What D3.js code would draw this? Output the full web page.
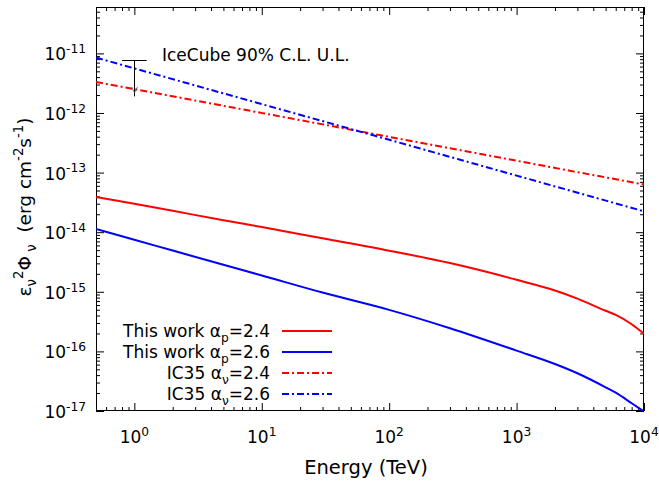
<!DOCTYPE html>
<html>
<head>
<meta charset="utf-8">
<script src="https://cdn.jsdelivr.net/npm/d3@7"></script>
<style>
  body { margin: 0; background: #fff; }
  svg { font-family: "DejaVu Sans", sans-serif; }
  text { white-space: pre; fill: #000; }
</style>
</head>
<body>
<svg id="chart" width="659" height="481"></svg>
<script>
// Neutrino energy grid (TeV) for the model curves
const energy = [0.5, 1, 2, 5, 10, 30, 100, 300, 1000, 2000, 3000, 5000, 6000, 8000, 10000];
// Model flux, proton index 2.4 (erg cm^-2 s^-1)
const thisWork24 = [3.91e-14, 2.99e-14, 2.28e-14, 1.59e-14, 1.22e-14, 7.9e-15, 4.9e-15, 3.03e-15,
                    1.59e-15, 1.05e-15, 7.7e-16, 4.8e-16, 4.1e-16, 2.86e-16, 1.97e-16];
// Model flux, proton index 2.6
const thisWork26 = [1.13e-14, 7.46e-15, 4.92e-15, 2.84e-15, 1.88e-15, 9.7e-16, 4.98e-16, 2.45e-16,
                    1.03e-16, 6.15e-17, 4.3e-17, 2.5e-17, 2.03e-17, 1.35e-17, 9.8e-18];
// IC35 power-law fluxes
const icEnergy = [0.5, 1, 10, 100, 1000, 10000];
const ic35_24 = [3.31e-12, 2.51e-12, 1.0e-12, 3.98e-13, 1.58e-13, 6.3e-14];
const ic35_26 = [8.5e-12, 5.6e-12, 1.41e-12, 3.55e-13, 8.9e-14, 2.24e-14];
// IceCube 90% C.L. upper limit at 1 TeV
const ulEnergy = 1;
const ulValue = 7.8e-12;
const ulArrowEnd = 1.9e-12;
const ulBarHalfWidth = [0.8, 1.25];

// Axis ranges and ticks
const xDomain = [0.5, 1e4];
const yDomain = [1e-17, 6e-11];
const xMajor = [0, 1, 2, 3, 4];
const yMajor = [-17, -16, -15, -14, -13, -12, -11];

const series = [
  { label: "This work ", sym: "\u03b1", sub: "p", val: "=2.4", x: energy, y: thisWork24, color: "#ff0000", dash: null },
  { label: "This work ", sym: "\u03b1", sub: "p", val: "=2.6", x: energy, y: thisWork26, color: "#0000ff", dash: null },
  { label: "IC35 ", sym: "\u03b1", sub: "\u03bd", val: "=2.4", x: icEnergy, y: ic35_24, color: "#ff0000", dash: "7,3,2,3" },
  { label: "IC35 ", sym: "\u03b1", sub: "\u03bd", val: "=2.6", x: icEnergy, y: ic35_26, color: "#0000ff", dash: "7,3,2,3" }
];

const plot = { left: 96, right: 644, top: 7, bottom: 411 };

const svg = d3.select("#chart");
const x = d3.scaleLog().domain(xDomain).range([plot.left, plot.right]);
const y = d3.scaleLog().domain(yDomain).range([plot.bottom, plot.top]);

// rich text: parts [{t, k:'sup'|'sub'|undefined}]
function rich(sel, parts, size) {
  let off = 0;
  parts.forEach(p => {
    const target = p.k === "sup" ? -0.42 * size : p.k === "sub" ? 0.28 * size : 0;
    sel.append("tspan")
      .attr("dy", (target - off).toFixed(2))
      .attr("font-size", p.k ? size * 0.72 : size)
      .text(p.t);
    off = target;
  });
}

svg.append("defs").append("clipPath").attr("id", "clip")
  .append("rect").attr("x", plot.left).attr("y", plot.top)
  .attr("width", plot.right - plot.left).attr("height", plot.bottom - plot.top);

// minor tick values
const xMinor = [];
for (let e = -1; e <= 3; e++) for (let m = 2; m <= 9; m++) {
  const v = m * Math.pow(10, e);
  if (v >= xDomain[0] && v <= xDomain[1]) xMinor.push(v);
}
const yMinor = [];
for (let e = -17; e <= -11; e++) for (let m = 2; m <= 9; m++) {
  const v = m * Math.pow(10, e);
  if (v >= yDomain[0] && v <= yDomain[1]) yMinor.push(v);
}
const xMajVals = xMajor.map(e => Math.pow(10, e));
const yMajVals = yMajor.map(e => Math.pow(10, e));

function drawAxis(axisGen, tf) {
  const g = svg.append("g").attr("transform", tf).call(axisGen);
  g.select(".domain").remove();
  g.selectAll("line").attr("stroke", "#000").attr("stroke-width", 1);
  g.selectAll("text").remove();
  return g;
}
// bottom / top
drawAxis(d3.axisBottom(x).tickValues(xMajVals).tickSize(-8).tickFormat(""), `translate(0,${plot.bottom})`);
drawAxis(d3.axisBottom(x).tickValues(xMinor).tickSize(-4).tickFormat(""), `translate(0,${plot.bottom})`);
drawAxis(d3.axisTop(x).tickValues(xMajVals).tickSize(-8).tickFormat(""), `translate(0,${plot.top})`);
drawAxis(d3.axisTop(x).tickValues(xMinor).tickSize(-4).tickFormat(""), `translate(0,${plot.top})`);
// left / right
drawAxis(d3.axisLeft(y).tickValues(yMajVals).tickSize(-8).tickFormat(""), `translate(${plot.left},0)`);
drawAxis(d3.axisLeft(y).tickValues(yMinor).tickSize(-4).tickFormat(""), `translate(${plot.left},0)`);
drawAxis(d3.axisRight(y).tickValues(yMajVals).tickSize(-8).tickFormat(""), `translate(${plot.right},0)`);
drawAxis(d3.axisRight(y).tickValues(yMinor).tickSize(-4).tickFormat(""), `translate(${plot.right},0)`);

// border
svg.append("rect")
  .attr("x", plot.left + 0.5).attr("y", plot.top + 0.5)
  .attr("width", plot.right - plot.left - 1).attr("height", plot.bottom - plot.top - 1)
  .attr("fill", "none").attr("stroke", "#000").attr("stroke-width", 1);

// tick labels
const fs = 17;
const titleFs = 19.5;
xMajor.forEach(e => {
  const t = svg.append("text").attr("x", x(Math.pow(10, e))).attr("y", 443)
    .attr("text-anchor", "middle").attr("font-size", fs);
  rich(t, [{ t: "10" }, { t: String(e), k: "sup" }], fs);
});
yMajor.forEach(e => {
  const t = svg.append("text").attr("x", 86).attr("y", y(Math.pow(10, e)) + 7)
    .attr("text-anchor", "end").attr("font-size", fs);
  rich(t, [{ t: "10" }, { t: String(e), k: "sup" }], fs);
});

// axis titles
svg.append("text").attr("x", 366).attr("y", 474).attr("text-anchor", "middle")
  .attr("font-size", titleFs).text("Energy (TeV)");
const ylFs = 18.5;
const yl = svg.append("text").attr("transform", `translate(31,207) rotate(-90)`)
  .attr("text-anchor", "middle").attr("font-size", ylFs);
rich(yl, [
  { t: "\u03b5" }, { t: "\u03bd", k: "sub" }, { t: "2", k: "sup" }, { t: "\u03a6" },
  { t: " \u03bd", k: "sub" }, { t: "  (erg cm" }, { t: "-2", k: "sup" }, { t: "s" },
  { t: "-1", k: "sup" }, { t: ")" }
], ylFs);

// curves
const line = d3.line().x(d => x(d[0])).y(d => y(d[1])).curve(d3.curveMonotoneX);
const curves = svg.append("g").attr("clip-path", "url(#clip)");
series.forEach(s => {
  curves.append("path")
    .datum(s.x.map((v, i) => [v, s.y[i]]))
    .attr("d", line)
    .attr("fill", "none")
    .attr("stroke", s.color)
    .attr("stroke-width", 2)
    .attr("stroke-dasharray", s.dash);
});

// upper limit marker
const ux = Math.round(x(ulEnergy)) + 0.5;
const uy = Math.round(y(ulValue)) + 0.5;
svg.append("line")
  .attr("x1", x(ulEnergy * ulBarHalfWidth[0])).attr("x2", x(ulEnergy * ulBarHalfWidth[1]))
  .attr("y1", uy).attr("y2", uy)
  .attr("stroke", "#000").attr("stroke-width", 1);
svg.append("line")
  .attr("x1", ux).attr("x2", ux)
  .attr("y1", uy).attr("y2", y(ulArrowEnd))
  .attr("stroke", "#000").attr("stroke-width", 1);
const tipY = y(ulArrowEnd) - 3.5;
svg.append("path")
  .attr("d", `M${ux - 3},${tipY - 6} L${ux},${tipY} L${ux + 3},${tipY - 6}`)
  .attr("fill", "none").attr("stroke", "#555").attr("stroke-width", 0.8);
svg.append("text").attr("x", 162).attr("y", 61).attr("font-size", fs)
  .text("IceCube 90% C.L. U.L.");

// legend
const legY0 = 331, legDy = 21;
series.forEach((s, i) => {
  const cy = legY0 + i * legDy;
  const t = svg.append("text").attr("x", 270).attr("y", cy + 6)
    .attr("text-anchor", "end").attr("font-size", fs);
  rich(t, [{ t: s.label + s.sym }, { t: s.sub, k: "sub" }, { t: s.val }], fs);
  svg.append("line").attr("x1", 282).attr("x2", 332).attr("y1", cy).attr("y2", cy)
    .attr("stroke", s.color).attr("stroke-width", 2).attr("stroke-dasharray", s.dash);
});
</script>
</body>
</html>
